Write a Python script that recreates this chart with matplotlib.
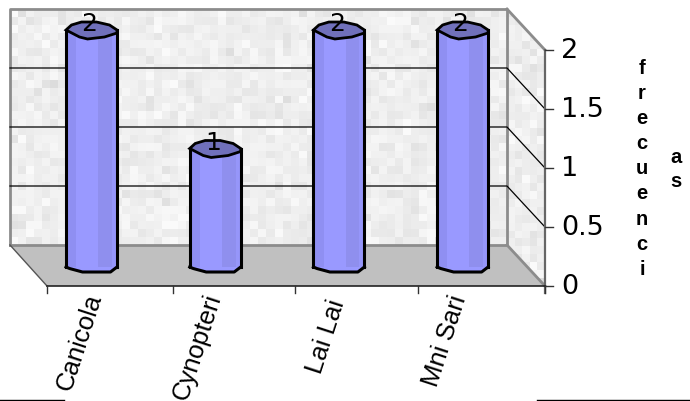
import numpy as np
import matplotlib
matplotlib.use('Agg')
import matplotlib.pyplot as plt
from matplotlib.patches import Polygon

categories = ['Canicola', 'Cynopteri', 'Lai Lai', 'Mni Sari']
values = [2, 1, 2, 2]
y_ticks = [0, 0.5, 1, 1.5, 2]
y_tick_labels = ['0', '0.5', '1', '1.5', '2']
axis_title_1 = 'frecuenci'
axis_title_2 = 'as'

W, H = 690, 402
plt.rcParams['font.family'] = ['Liberation Sans', 'DejaVu Sans']

fig = plt.figure(figsize=(W / 100, H / 100), dpi=100, facecolor='white')

# pixel space axes for the box of the 3d chart
bg = fig.add_axes([0, 0, 1, 1])
bg.set_xlim(0, W)
bg.set_ylim(H, 0)
bg.axis('off')


def speckle(seed, nx, ny, extent, clip):
    # stone texture of the walls, not data
    rng = np.random.default_rng(seed)
    tex = rng.normal(238, 5.5, (ny, nx)).clip(216, 250)
    im = bg.imshow(tex, cmap='gray', vmin=0, vmax=255, extent=extent,
                   interpolation='nearest', aspect='auto', zorder=1)
    im.set_clip_path(clip)


back = Polygon([(10, 10), (507, 10), (507, 246), (10, 246)], closed=True,
               fc='none', ec='none', transform=bg.transData)
side = Polygon([(507, 10), (545, 51), (545, 287), (507, 246)], closed=True,
               fc='none', ec='none', transform=bg.transData)
bg.add_patch(back)
bg.add_patch(side)
speckle(3, 62, 30, (10, 507, 246, 10), back)
speckle(8, 5, 35, (507, 545, 287, 10), side)
bg.set_xlim(0, W)
bg.set_ylim(H, 0)

# floor
bg.add_patch(Polygon([(10, 246), (507, 246), (545, 287), (47, 287)], closed=True,
                     fc='#c0c0c0', ec='none', zorder=2))
edge = '#8c8c8c'
bg.plot([10, 10, 507, 507, 10], [246, 10, 10, 246, 246], color=edge, lw=2, zorder=3)
bg.plot([507, 545], [10, 51], color=edge, lw=2, zorder=3)
bg.plot([507, 545], [246, 287], color=edge, lw=2, zorder=3)
bg.plot([10, 47], [246, 287], color='#555555', lw=1, zorder=3)

# value scale used on the back wall, side wall and right axis
px_0_back, px_2_back = 246, 10
px_0_front, px_2_front = 287, 51
for t in y_ticks[1:-1]:
    yb = px_0_back + (px_2_back - px_0_back) * t / 2
    yf = px_0_front + (px_2_front - px_0_front) * t / 2
    bg.plot([10, 507, 545], [yb, yb, yf], color='black', lw=0.9, zorder=3)

# right value axis
bg.plot([545, 545], [51, 294], color='#666666', lw=1.6, zorder=4)
for t, lab in zip(y_ticks, y_tick_labels):
    yf = px_0_front + (px_2_front - px_0_front) * t / 2
    bg.plot([545, 553], [yf, yf], color='#333333', lw=1, zorder=4)
    bg.text(561, yf, lab, fontsize=19.5, family='DejaVu Sans', ha='left',
            va='center', color='black', zorder=5)

# category axis
bg.plot([47, 545], [287, 287], color='#222222', lw=1.2, zorder=4)
edges_px = [47, 173, 295, 418, 545]
for x in edges_px:
    bg.plot([x, x], [287, 294], color='#333333', lw=1, zorder=4)
label_px = [(95, 294), (214, 295), (338, 300), (460, 296)]
for (x, y), lab in zip(label_px, categories):
    bg.text(x, y, lab, fontsize=18.5, rotation=72, rotation_mode='anchor',
            ha='right', va='center', color='black', zorder=5)

# axis title, one letter per line in two columns
for i, ch in enumerate(axis_title_1):
    bg.text(642, 68 + i * 25.2, ch, fontsize=14.5, fontweight='bold', ha='center',
            va='center', color='black')
for i, ch in enumerate(axis_title_2):
    bg.text(676, 158 + i * 24, ch, fontsize=14.5, fontweight='bold', ha='center',
            va='center', color='black')

# stray rules at the bottom of the page
bg.plot([0, 64], [400.5, 400.5], color='black', lw=1)
bg.plot([537, 690], [400.5, 400.5], color='black', lw=1)

# bars: x in category index, y in value units
ax = fig.add_axes([0, 0, 1, 1], facecolor='none')
step = 123.7
x0_px, v0_px, unit_px = 91.5, 268.0, 118.5
ax.set_xlim((0 - x0_px) / step, (W - x0_px) / step)
ax.set_ylim((v0_px - H) / unit_px, v0_px / unit_px)
ax.axis('off')

sx, sy = 1 / step, 1 / unit_px
bar_w = 51 * sx
# shading bands across the cylinder: start, end in fraction of width, colour
bands = [(0.0, 0.2, '#8f8ff2'), (0.2, 0.63, '#9999ff'), (0.63, 0.9, '#8f8fee'), (0.9, 1.0, '#9696fa')]
cap = np.array([(-25.5, 0), (-20, -5), (-10, -8), (5, -8), (18, -5), (25.5, 0), (25.5, 3),
                (13, 7), (-4, 9), (-12, 7), (-25.5, 0)])
foot = [(25.5, 0), (19, -5), (-9, -5), (-22, -1.5), (-25.5, 0)]

for i, v in enumerate(values):
    for a, b, c in bands:
        ax.bar(i - bar_w / 2 + a * bar_w, v, width=(b - a) * bar_w, align='edge',
               color=c, lw=0, zorder=6)
    # bottom rounding below the value 0 line
    ax.add_patch(Polygon([(i + px * sx, py * sy) for px, py in foot], closed=True,
                         fc='#9999ff', ec='none', zorder=6))
    ax.plot([i - bar_w / 2, i - bar_w / 2], [0, v], color='black', lw=2.2, zorder=7)
    ax.plot([i + bar_w / 2, i + bar_w / 2], [0, v], color='black', lw=2.2, zorder=7)
    ax.plot([i + px * sx for px, py in foot], [py * sy for px, py in foot], color='black',
            lw=2.2, zorder=7)
    ax.add_patch(Polygon([(i + px * sx, v - py * sy) for px, py in cap], closed=True,
                         fc='#7070bb', ec='black', lw=2, zorder=8))
    ax.text(i - 2 * sx, v, str(v), fontsize=18, family='DejaVu Sans', ha='center',
            va='baseline', color='black', zorder=9)

fig.savefig('out.png', dpi=100)
